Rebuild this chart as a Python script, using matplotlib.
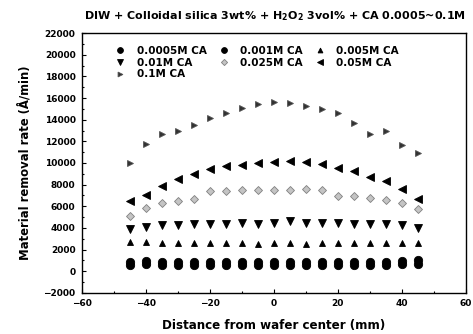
import matplotlib
matplotlib.use("Agg")
import matplotlib.pyplot as plt
from matplotlib.ticker import MultipleLocator

plt.rcParams["font.family"] = ["DejaVu Sans"]
plt.rcParams["font.weight"] = "bold"
plt.rcParams["mathtext.default"] = "bf"

# distance from wafer center (mm)
dist = [-45, -40, -35, -30, -25, -20, -15, -10, -5, 0, 5, 10, 15, 20, 25, 30, 35, 40, 45]

# removal rate (A/min) per CA concentration
rr_0005 = [600, 650, 600, 550, 550, 550, 600, 550, 550, 550, 550, 550, 550, 600, 600, 600, 600, 650, 700]
rr_001 = [850, 950, 900, 850, 850, 850, 900, 850, 850, 850, 850, 850, 850, 900, 900, 900, 900, 950, 1000]
rr_005 = [2700, 2700, 2600, 2580, 2580, 2580, 2580, 2580, 2550, 2580, 2580, 2550, 2580, 2620, 2600, 2600, 2600, 2600, 2640]
rr_01 = [3860, 4110, 4230, 4280, 4350, 4380, 4380, 4420, 4380, 4480, 4630, 4450, 4420, 4420, 4380, 4380, 4320, 4230, 4020]
rr_025 = [5150, 5860, 6260, 6470, 6690, 7390, 7390, 7540, 7480, 7480, 7480, 7610, 7480, 6990, 6930, 6780, 6620, 6320, 5770]
rr_05 = [6470, 7020, 7910, 8550, 9020, 9450, 9690, 9840, 10000, 10060, 10210, 10060, 9900, 9540, 9230, 8710, 8310, 7610, 6690]
rr_1 = [10000, 11750, 12670, 12970, 13520, 14200, 14660, 15060, 15460, 15670, 15520, 15270, 14970, 14600, 13680, 12670, 12910, 11680, 10920]

labels = ["0.0005M CA", "0.001M CA", "0.005M CA", "0.01M CA", "0.025M CA", "0.05M CA", "0.1M CA"]
series = [rr_0005, rr_001, rr_005, rr_01, rr_025, rr_05, rr_1]
markers = ["o", "o", "^", "v", "D", "<", ">"]
faces = ["black", "black", "black", "black", "#c4c4c4", "black", "#333333"]
edges = ["black", "black", "black", "black", "#808080", "black", "#555555"]
sizes = [6, 6, 5, 6, 4.5, 6, 5]

fig = plt.figure(figsize=(4.73, 3.34), dpi=100)
ax = fig.add_axes([0.173, 0.123, 0.812, 0.778])

handles = []
for y, lab, m, fc, ec, s in zip(series, labels, markers, faces, edges, sizes):
    h, = ax.plot(dist, y, linestyle="none", marker=m, markersize=s,
                 markerfacecolor=fc, markeredgecolor=ec, markeredgewidth=0.6, label=lab)
    handles.append(h)

ax.set_xlim(-60, 60)
ax.set_ylim(-2000, 22000)
ax.xaxis.set_major_locator(MultipleLocator(20))
ax.xaxis.set_minor_locator(MultipleLocator(10))
ax.yaxis.set_major_locator(MultipleLocator(2000))
ax.yaxis.set_minor_locator(MultipleLocator(1000))
ax.tick_params(which="both", direction="in", labelsize=6.5, width=0.8, pad=4.5)
ax.tick_params(which="major", length=3)
ax.tick_params(which="minor", length=1.5)
for sp in ax.spines.values():
    sp.set_linewidth(1.0)

ax.set_xlabel("Distance from wafer center (mm)", fontsize=8.6, fontweight="bold")
ax.xaxis.set_label_coords(0.5, -0.10)
ax.set_ylabel("Material removal rate (Å/min)", fontsize=8.4, fontweight="bold")
ax.yaxis.set_label_coords(-0.13, 0.5)
fig.text(84 / 473, 1 - 16.5 / 334,
         "DIW + Colloidal silica 3wt% + H$_2$O$_2$ 3vol% + CA 0.0005~0.1M",
         fontsize=8.0, fontweight="bold", ha="left", va="center")

# row-wise legend order: matplotlib fills columns first
order = [0, 3, 6, 1, 4, 2, 5]
ax.legend([handles[i] for i in order], [labels[i] for i in order],
          ncol=3, loc="upper left", bbox_to_anchor=(0.087, 0.95), frameon=False,
          borderpad=0, borderaxespad=0,
          fontsize=7.5, markerscale=0.7, handlelength=1.0, handletextpad=1.1,
          columnspacing=1.1, labelspacing=0.15)

fig.savefig("out.png", dpi=100)
